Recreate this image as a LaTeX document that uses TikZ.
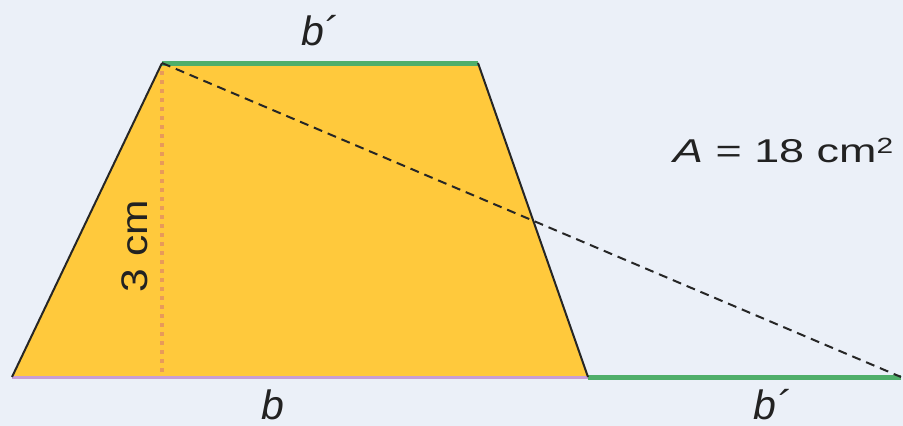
\documentclass[tikz,border=0pt]{standalone}
\usepackage{fontspec}
\setmainfont{Liberation Sans}
\definecolor{bg}{HTML}{EBF0F8}
\definecolor{trapfill}{HTML}{FFC93C}
\definecolor{topgreen}{HTML}{4FAE6A}
\definecolor{basepurple}{HTML}{C89ED6}
\definecolor{dotorange}{HTML}{E89A5A}
\definecolor{txt}{HTML}{222222}
\tikzset{
  edge/.style={draw=black!85, line width=2pt},
  greenseg/.style={draw=topgreen, line width=5pt},
  baseseg/.style={draw=basepurple, line width=3pt},
  diag/.style={draw=black!85, line width=2pt, dash pattern=on 9pt off 6pt},
  heightline/.style={draw=dotorange, line width=4pt, dash pattern=on 4pt off 5pt},
  lbl/.style={text=txt, inner sep=0pt},
  blbl/.style={lbl, font=\fontsize{41}{44}\selectfont\itshape, anchor=base west},
  mlbl/.style={lbl, font=\fontsize{33}{36}\selectfont}
}
\begin{document}
\begin{tikzpicture}[x=1pt,y=-1pt]
\useasboundingbox[fill=bg] (0,0) rectangle (903,426);
\coordinate (BL) at (12,377);
\coordinate (TL) at (162,63);
\coordinate (TR) at (478,63);
\coordinate (BR) at (588,377);
\coordinate (EX) at (901,377);
\coordinate (H) at (162,377);
\fill[trapfill] (BL) -- (TL) -- (TR) -- (BR) -- cycle;
\draw[heightline] (TL) ++(0,8) -- (H);
\draw[baseseg] (BL) -- (BR);
\draw[greenseg] (BR) -- (EX);
\draw[greenseg] (TL) -- (TR);
\draw[edge] (BL) -- (TL);
\draw[edge] (TR) -- (BR);
\draw[diag] (TL) -- (EX);
\node[blbl] (btop) at (301,45) {b´};
\node[blbl] (bbot) at (261,419) {b};
\node[blbl] (bext) at (753,419) {b´};
\node[mlbl, rotate=90, font=\fontsize{37}{40}\selectfont] (h) at (135,246) {\scalebox{1.15}[1]{3 cm}};
\node[mlbl, anchor=base west] (area) at (673,162) {\scalebox{1.36}[1]{{\itshape A} = 18 cm\raisebox{0.5ex}{\fontsize{22}{24}\selectfont 2}}};
\end{tikzpicture}
\end{document}
